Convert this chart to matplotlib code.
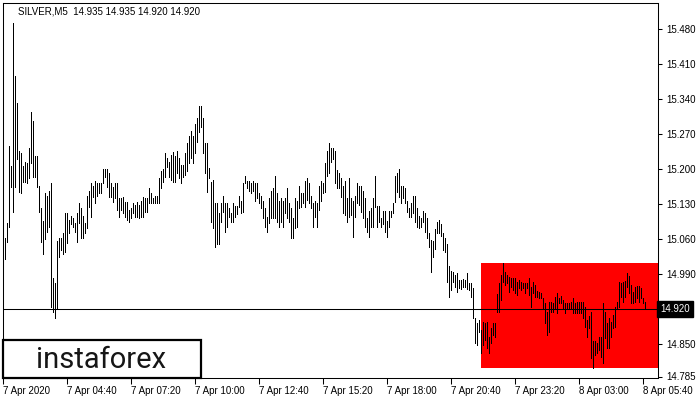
"""
plot.py
=======
SILVER M5 bar chart (MetaTrader style) with the highlighted pattern box and
the instaforex badge in the corner. Writes out.png (700x400).
"""

import matplotlib

matplotlib.use("Agg")
import matplotlib.pyplot as plt
from matplotlib.patches import Rectangle

# --- data -------------------------------------------------------------------
symbol_title = "SILVER,M5  14.935 14.935 14.920 14.920"

# bar highs / lows, one per 5-minute bar (index 0 = 7 Apr 02:00)
highs = [
    15.026, 15.063, 15.092, 15.246, 15.206, 15.492, 15.386, 15.332, 15.236, 15.232,  # 0
    15.206, 15.214, 15.212, 15.242, 15.314, 15.296, 15.226, 15.226, 15.166, 15.122,  # 10
    15.096, 15.152, 15.146, 15.156, 15.172, 14.982, 14.972, 15.056, 15.062, 15.062,  # 20
    15.072, 15.112, 15.112, 15.098, 15.106, 15.102, 15.092, 15.112, 15.132, 15.122,  # 30
    15.106, 15.092, 15.146, 15.156, 15.172, 15.166, 15.176, 15.172, 15.172, 15.172,  # 40
    15.200, 15.200, 15.200, 15.192, 15.172, 15.164, 15.172, 15.172, 15.142, 15.142,  # 50
    15.144, 15.134, 15.134, 15.118, 15.122, 15.132, 15.128, 15.134, 15.128, 15.136,  # 60
    15.144, 15.142, 15.142, 15.162, 15.152, 15.142, 15.146, 15.146, 15.182, 15.196,  # 70
    15.200, 15.232, 15.222, 15.214, 15.228, 15.234, 15.226, 15.236, 15.222, 15.208,  # 80
    15.208, 15.232, 15.252, 15.266, 15.276, 15.266, 15.290, 15.302, 15.326, 15.326,  # 90
    15.302, 15.252, 15.252, 15.202, 15.174, 15.178, 15.132, 15.132, 15.112, 15.132,  # 100
    15.146, 15.132, 15.132, 15.122, 15.112, 15.132, 15.126, 15.126, 15.146, 15.136,  # 110
    15.172, 15.186, 15.176, 15.176, 15.172, 15.176, 15.172, 15.172, 15.152, 15.146,  # 120
    15.136, 15.122, 15.104, 15.142, 15.156, 15.162, 15.186, 15.152, 15.136, 15.142,  # 130
    15.136, 15.142, 15.162, 15.132, 15.122, 15.102, 15.142, 15.136, 15.166, 15.152,  # 140
    15.152, 15.176, 15.182, 15.172, 15.146, 15.132, 15.136, 15.132, 15.166, 15.176,  # 150
    15.172, 15.212, 15.236, 15.252, 15.242, 15.242, 15.236, 15.198, 15.192, 15.182,  # 160
    15.166, 15.176, 15.142, 15.182, 15.142, 15.136, 15.146, 15.172, 15.166, 15.166,  # 170
    15.156, 15.142, 15.102, 15.116, 15.122, 15.142, 15.186, 15.126, 15.126, 15.102,  # 180
    15.116, 15.116, 15.096, 15.116, 15.116, 15.132, 15.186, 15.192, 15.200, 15.166,  # 190
    15.166, 15.162, 15.136, 15.122, 15.132, 15.146, 15.146, 15.122, 15.106, 15.102,  # 200
    15.116, 15.112, 15.102, 15.072, 15.058, 15.056, 15.080, 15.094, 15.098, 15.090,  # 210
    15.072, 15.062, 15.050, 15.006, 14.996, 14.994, 14.988, 14.992, 14.978, 14.978,  # 220
    14.980, 14.978, 14.992, 14.972, 14.972, 14.962, 14.902, 14.892, 14.898, 14.878,  # 230
    14.894, 14.892, 14.894, 14.864, 14.882, 14.892, 14.892, 14.950, 14.972, 14.988,  # 240
    15.012, 14.994, 14.988, 14.984, 14.982, 14.982, 14.982, 14.974, 14.978, 14.974,  # 250
    14.972, 14.972, 14.972, 14.982, 14.964, 14.974, 14.968, 14.956, 14.954, 14.952,  # 260
    14.942, 14.932, 14.914, 14.934, 14.934, 14.932, 14.944, 14.952, 14.942, 14.946,  # 270
    14.938, 14.932, 14.932, 14.932, 14.934, 14.942, 14.932, 14.934, 14.934, 14.934,  # 280
    14.934, 14.924, 14.898, 14.906, 14.914, 14.856, 14.856, 14.852, 14.864, 14.864,  # 290
    14.932, 14.914, 14.892, 14.902, 14.894, 14.908, 14.924, 14.934, 14.974, 14.972,  # 300
    14.974, 14.976, 14.992, 14.986, 14.968, 14.954, 14.964, 14.966, 14.966, 14.962,  # 310
    14.942, 14.935,                                                                  # 320
]
lows = [
    14.994, 15.020, 15.054, 15.084, 15.164, 15.114, 15.164, 15.220, 15.154, 15.152,  # 0
    15.174, 15.174, 15.172, 15.182, 15.212, 15.184, 15.184, 15.164, 15.114, 15.054,  # 10
    15.030, 15.060, 15.074, 15.084, 14.924, 14.914, 14.902, 14.922, 15.024, 15.038,  # 20
    15.030, 15.034, 15.052, 15.072, 15.090, 15.084, 15.074, 15.054, 15.092, 15.062,  # 30
    15.062, 15.072, 15.082, 15.124, 15.104, 15.144, 15.132, 15.146, 15.152, 15.152,  # 40
    15.172, 15.184, 15.164, 15.144, 15.144, 15.134, 15.142, 15.118, 15.104, 15.118,  # 50
    15.112, 15.104, 15.098, 15.094, 15.102, 15.112, 15.104, 15.104, 15.102, 15.104,  # 60
    15.104, 15.114, 15.114, 15.132, 15.132, 15.132, 15.132, 15.132, 15.132, 15.162,  # 70
    15.174, 15.184, 15.204, 15.184, 15.178, 15.174, 15.174, 15.192, 15.182, 15.172,  # 80
    15.184, 15.188, 15.196, 15.212, 15.222, 15.212, 15.232, 15.254, 15.274, 15.284,  # 90
    15.232, 15.192, 15.154, 15.182, 15.094, 15.082, 15.044, 15.050, 15.050, 15.094,  # 100
    15.114, 15.074, 15.084, 15.104, 15.094, 15.094, 15.104, 15.110, 15.124, 15.112,  # 110
    15.114, 15.172, 15.162, 15.156, 15.152, 15.156, 15.136, 15.142, 15.132, 15.122,  # 120
    15.102, 15.084, 15.074, 15.092, 15.102, 15.102, 15.102, 15.094, 15.084, 15.094,  # 130
    15.084, 15.112, 15.102, 15.094, 15.062, 15.062, 15.082, 15.084, 15.122, 15.124,  # 140
    15.132, 15.124, 15.138, 15.132, 15.122, 15.084, 15.104, 15.084, 15.118, 15.136,  # 150
    15.152, 15.154, 15.186, 15.192, 15.214, 15.220, 15.172, 15.162, 15.162, 15.144,  # 160
    15.112, 15.108, 15.094, 15.104, 15.108, 15.064, 15.104, 15.132, 15.128, 15.114,  # 170
    15.102, 15.084, 15.074, 15.064, 15.084, 15.084, 15.124, 15.084, 15.094, 15.084,  # 180
    15.090, 15.074, 15.064, 15.084, 15.104, 15.112, 15.134, 15.154, 15.144, 15.132,  # 190
    15.142, 15.132, 15.114, 15.104, 15.104, 15.112, 15.094, 15.084, 15.082, 15.084,  # 200
    15.094, 15.074, 15.062, 15.044, 14.994, 15.024, 15.040, 15.072, 15.072, 15.066,  # 210
    15.038, 15.034, 14.974, 14.944, 14.958, 14.974, 14.964, 14.954, 14.962, 14.960,  # 220
    14.964, 14.964, 14.960, 14.958, 14.944, 14.902, 14.852, 14.848, 14.874, 14.832,  # 230
    14.848, 14.858, 14.842, 14.832, 14.852, 14.868, 14.864, 14.914, 14.914, 14.938,  # 240
    14.974, 14.968, 14.972, 14.954, 14.964, 14.958, 14.952, 14.948, 14.962, 14.958,  # 250
    14.962, 14.952, 14.962, 14.948, 14.924, 14.952, 14.944, 14.944, 14.942, 14.942,  # 260
    14.922, 14.892, 14.868, 14.874, 14.914, 14.914, 14.922, 14.912, 14.932, 14.932,  # 270
    14.922, 14.912, 14.922, 14.922, 14.922, 14.912, 14.912, 14.912, 14.912, 14.912,  # 280
    14.902, 14.884, 14.864, 14.882, 14.822, 14.802, 14.828, 14.832, 14.838, 14.824,  # 290
    14.812, 14.862, 14.842, 14.842, 14.864, 14.882, 14.884, 14.922, 14.924, 14.944,  # 300
    14.934, 14.944, 14.964, 14.952, 14.932, 14.932, 14.934, 14.942, 14.934, 14.942,  # 310
    14.932, 14.920,                                                                  # 320
]

time_labels = [
    "7 Apr 2020", "7 Apr 04:40", "7 Apr 07:20", "7 Apr 10:00", "7 Apr 12:40",
    "7 Apr 15:20", "7 Apr 18:00", "7 Apr 20:40", "7 Apr 23:20", "8 Apr 03:00",
    "8 Apr 05:40",
]
label_step = 32  # bars between time labels

price_ticks = [15.480, 15.410, 15.340, 15.270, 15.200, 15.130, 15.060,
               14.990, 14.920, 14.850, 14.785]
price_now = 14.920

# highlighted pattern zone (runs to the right edge of the chart)
zone_start = 238.8
zone_top = 15.012
zone_bottom = 14.802

y_min, y_max = 14.782, 15.532

FONT = ["Liberation Sans", "DejaVu Sans"]


def render(out_path="out.png"):
    plt.rcParams["font.family"] = FONT
    W, H = 700, 400
    fig = plt.figure(figsize=(W / 100, H / 100), dpi=100)
    fig.patch.set_facecolor("white")
    # plot frame in pixels: x 3..658, y 3..378
    ax = fig.add_axes([3 / W, (H - 378) / H, 655 / W, 375 / H])
    ax.set_facecolor("white")

    n = len(highs)
    x = list(range(n))
    x_right = (658 - 3.3) / 2
    ax.set_xlim(-0.2, x_right)
    ax.set_ylim(y_min, y_max)

    ax.add_patch(Rectangle((zone_start, zone_bottom), x_right - zone_start,
                           zone_top - zone_bottom, facecolor="#ff0000",
                           edgecolor="none", zorder=1))
    ax.vlines(x, lows, highs, colors="black", linewidth=0.55,
              antialiased=False, zorder=3)
    ax.axhline(price_now, color="black", lw=0.75, zorder=4)

    for s in ax.spines.values():
        s.set_color("black")
        s.set_linewidth(0.75)

    ax.yaxis.tick_right()
    ax.set_yticks(price_ticks)
    # the current price tick is labelled by the black box instead
    ax.set_yticklabels(["" if v == price_now else f"{v:.3f}" for v in price_ticks])
    ax.tick_params(axis="y", length=3, width=0.75, pad=3, labelsize=7,
                   colors="black")

    xt = [i * label_step for i in range(len(time_labels))]
    ax.set_xticks(xt)
    ax.set_xticklabels(time_labels, ha="left")
    ax.tick_params(axis="x", length=4, width=0.75, pad=2, labelsize=7,
                   colors="black")

    # current price box on the right axis
    ax.text(1.0 + 2 / 655, price_now, f"{price_now:.3f}", color="white",
            fontsize=7, va="center", ha="left",
            transform=ax.get_yaxis_transform(), zorder=6,
            bbox=dict(boxstyle="square,pad=0.3", fc="black", ec="black"))

    fig.text(18 / W, 1 - 12 / H, symbol_title, fontsize=7, color="black",
             va="center", ha="left")

    # instaforex badge bottom-left
    badge = Rectangle((3 / W, (H - 378) / H), 198 / W, 38 / H,
                      transform=fig.transFigure, facecolor="white",
                      edgecolor="black", linewidth=1.6, zorder=10)
    fig.add_artist(badge)
    fig.text(101 / W, 1 - 360 / H, "instaforex", fontsize=21,
             family=["Liberation Sans Narrow", "Roboto", "DejaVu Sans"],
             color="#161616", ha="center", va="center", zorder=11)

    fig.savefig(out_path, dpi=100)
    plt.close(fig)


if __name__ == "__main__":
    render()
